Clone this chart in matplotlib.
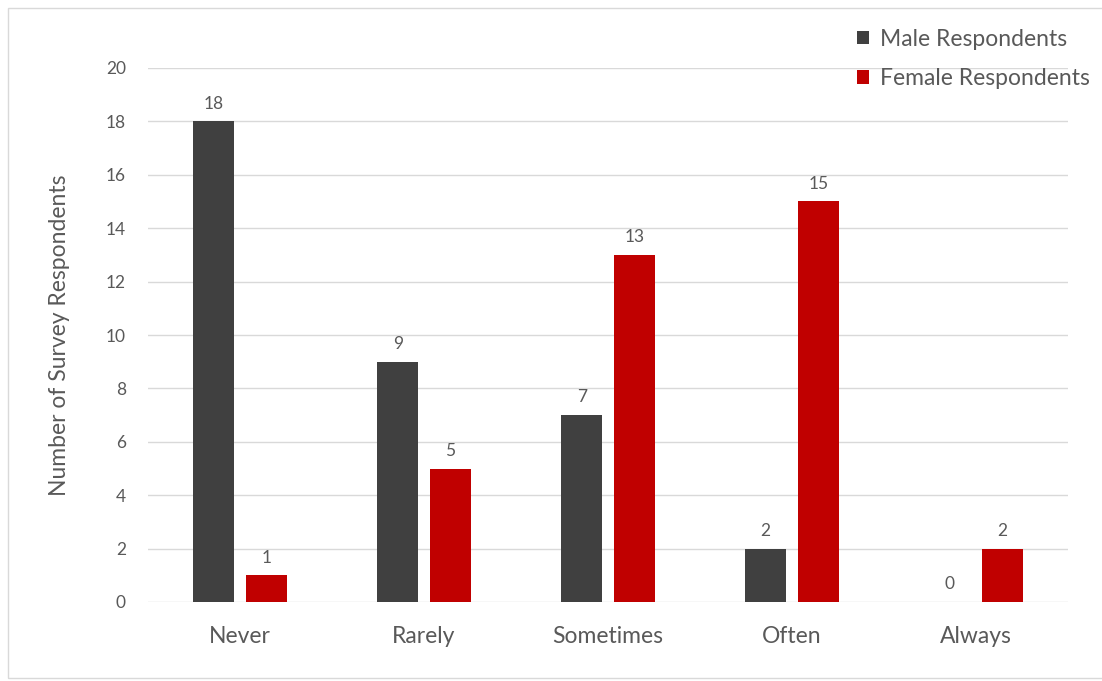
import matplotlib
matplotlib.use("Agg")
import matplotlib.pyplot as plt
import numpy as np
from matplotlib.patches import Rectangle

categories = ["Never", "Rarely", "Sometimes", "Often", "Always"]
male = [18, 9, 7, 2, 0]
female = [1, 5, 13, 15, 2]
series_names = ["Male Respondents", "Female Respondents"]
yticks = [0, 2, 4, 6, 8, 10, 12, 14, 16, 18, 20]

plt.rcParams['font.family'] = ['Lato', 'DejaVu Sans']
txt = '#595959'
c_male = '#404040'
c_female = '#c00000'

fig = plt.figure(figsize=(11.02, 6.81), dpi=100)
fig.patches.append(Rectangle((8/1102, 0.004), 1.2, (681-8)/681 - 0.004, transform=fig.transFigure,
                             fill=False, edgecolor='#d9d9d9', linewidth=1.0, zorder=0))
ax = fig.add_axes([148/1102, (681-602)/681, 920/1102, 534/681])

x = np.arange(len(categories))
w = 0.222
off = 0.143
b1 = ax.bar(x - off, male, w, color=c_male, label=series_names[0], zorder=3)
b2 = ax.bar(x + off, female, w, color=c_female, label=series_names[1], zorder=3)
for bars, vals in ((b1, male), (b2, female)):
    for r, v in zip(bars, vals):
        ax.annotate(str(v), (r.get_x() + r.get_width()/2, v), xytext=(0, 7),
                    textcoords='offset points', ha='center', va='bottom',
                    fontsize=12.5, color=txt)

ax.set_xlim(-0.5, 4.5)
ax.set_ylim(0, 20)
ax.set_yticks(yticks)
ax.set_xticks(x)
ax.set_xticklabels(categories, fontsize=16.5, color=txt)
ax.tick_params(axis='y', labelsize=12.5, labelcolor=txt, length=0, pad=16)
ax.tick_params(axis='x', length=0, pad=17)
ax.grid(axis='y', color='#d9d9d9', linewidth=1.0, zorder=0)
for s in ax.spines.values():
    s.set_visible(False)
ax.set_ylabel("Number of Survey Respondents", fontsize=16.5, color=txt, labelpad=26)

leg = fig.legend(handles=[b1, b2], loc='upper left', bbox_to_anchor=(836/1102, 1 - 8/681),
                 frameon=False, fontsize=16.5, handlelength=0.55, handleheight=0.55,
                 handletextpad=0.45, labelspacing=0.8, labelcolor=txt)

fig.savefig("out.png", dpi=100)
